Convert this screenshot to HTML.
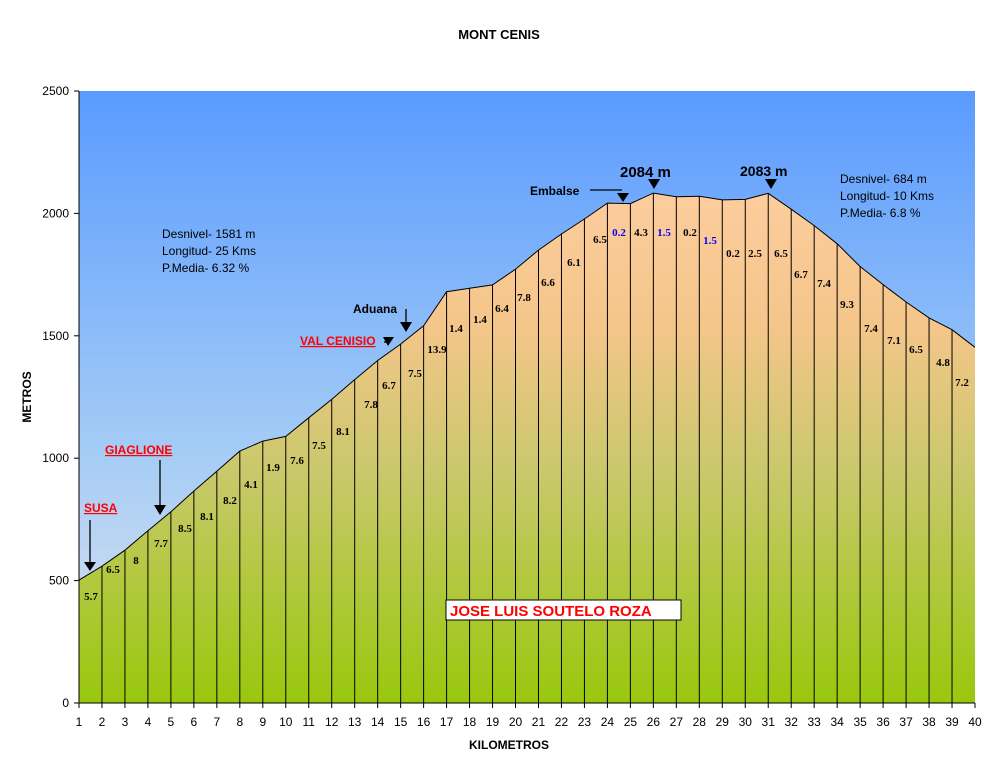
<!DOCTYPE html>
<html><head><meta charset="utf-8"><style>body{margin:0;background:#fff}svg{display:block}</style></head>
<body>
<svg id="s" width="999" height="767" xmlns="http://www.w3.org/2000/svg" font-family="Liberation Sans, sans-serif">
<defs>
<linearGradient id="sky" x1="0" y1="91" x2="0" y2="703" gradientUnits="userSpaceOnUse">
<stop offset="0" stop-color="#5a9bff"/><stop offset="0.6" stop-color="#a6cdf5"/><stop offset="1" stop-color="#e4e2ef"/></linearGradient>
<linearGradient id="fill" x1="0" y1="200" x2="0" y2="703" gradientUnits="userSpaceOnUse">
<stop offset="0" stop-color="#fccc9c"/><stop offset="0.25" stop-color="#f4c68a"/><stop offset="0.55" stop-color="#c8c86a"/><stop offset="1" stop-color="#98c80c"/></linearGradient>
</defs>
<text x="499" y="39" font-size="13" font-weight="bold" text-anchor="middle">MONT CENIS</text>
<rect x="79" y="91" width="896" height="612" fill="url(#sky)"/>
<g id="prof"></g>
<g id="ax" font-size="12"></g>
<text x="509" y="749" font-size="12" font-weight="bold" text-anchor="middle">KILOMETROS</text>
<text transform="translate(31,397) rotate(-90)" font-size="12" font-weight="bold" text-anchor="middle">METROS</text>
<g font-size="12">
<text x="162" y="238">Desnivel- 1581 m</text><text x="162" y="255">Longitud- 25 Kms</text><text x="162" y="272">P.Media- 6.32 %</text>
<text x="840" y="183">Desnivel- 684 m</text><text x="840" y="200">Longitud- 10 Kms</text><text x="840" y="217">P.Media- 6.8 %</text>
</g>
<g font-size="12" font-weight="bold" fill="#f00" text-decoration="underline">
<text x="84" y="512">SUSA</text><text x="105" y="454">GIAGLIONE</text><text x="300" y="345">VAL CENISIO</text>
</g>
<g font-size="12" font-weight="bold">
<text x="353" y="313">Aduana</text><text x="530" y="195">Embalse</text>
<text x="620" y="177" font-size="15">2084 m</text><text x="740" y="176" font-size="14">2083 m</text>
</g>
<g stroke="#000" stroke-width="1.3">
<line x1="90" y1="520" x2="90" y2="562"/><line x1="160" y1="460" x2="160" y2="507"/>
<line x1="406" y1="309" x2="406" y2="324"/>
<line x1="590" y1="190" x2="622" y2="190"/><line x1="384" y1="342" x2="388" y2="342"/>
</g>
<g fill="#000">
<polygon points="84,562 96,562 90,571"/><polygon points="154,505 166,505 160,515"/>
<polygon points="400,322 412,322 406,332"/><polygon points="383,337 394,337 388,346"/>
<polygon points="617,193 629,193 623,202"/><polygon points="648,179 660,179 654,189"/><polygon points="765,179 777,179 771,189"/>
</g>
<rect x="446" y="600" width="235" height="20" fill="#fff" stroke="#000"/>
<text x="450" y="616" font-size="15" font-weight="bold" fill="#f00">JOSE LUIS SOUTELO ROZA</text>
</svg>
<script>
const e=[502];const g=[5.7,6.5,8,7.7,8.5,8.1,8.2,4.1,1.9,7.6,7.5,8.1,7.8,6.7,7.5,13.9,1.4,1.4,6.4,7.8,6.6,6.1,6.5,-0.2,4.3,-1.5,0.2,-1.5,0.2,2.5,-6.5,-6.7,-7.4,-9.3,-7.4,-7.1,-6.5,-4.8,-7.2];
g.forEach(v=>e.push(e[e.length-1]+v*10));
const X=k=>79+(k-1)*896/39, Y=v=>703-v*612/2500;
let s='<path d="M79,703 '+e.map((v,i)=>'L'+X(i+1).toFixed(1)+','+Y(v).toFixed(1)).join(' ')+' L975,703Z" fill="url(#fill)"/>';
s+='<polyline points="'+e.map((v,i)=>X(i+1).toFixed(1)+','+Y(v).toFixed(1)).join(' ')+'" fill="none" stroke="#000" stroke-width="1"/>';
for(let i=1;i<39;i++)s+=`<line x1="${X(i+1)}" y1="${Y(e[i])}" x2="${X(i+1)}" y2="703" stroke="#000" stroke-width="1"/>`;
const ly=[596,569,560,543,528,516,500,484,467,460,445,431,404,385,373,349,328,319,308,297,282,262,239,232,232,232,232,240,253,253,253,274,283,304,328,340,349,362,382];
const lx=[91,113,136,161,185,207,230,251,273,297,319,343,371,389,415,437,456,480,502,524,548,574,600,619,641,664,690,710,733,755,781,801,824,847,871,894,916,943,962];
g.forEach((v,i)=>{const b=(i==23||i==25||i==27);s+=`<text x="${lx[i]}" y="${ly[i]+4}" font-family="Liberation Serif,serif" font-size="11" font-weight="bold" text-anchor="middle" fill="${b?'#00f':'#000'}">${Math.abs(v)}</text>`;});
document.getElementById('prof').innerHTML=s;
let a='<line x1="79" y1="91" x2="79" y2="703" stroke="#000"/><line x1="79" y1="703" x2="975" y2="703" stroke="#000"/>';
for(let m=0;m<=2500;m+=500){a+=`<line x1="74" y1="${Y(m)}" x2="79" y2="${Y(m)}" stroke="#000"/><text x="69" y="${Y(m)+4}" text-anchor="end">${m}</text>`;}
for(let k=1;k<=40;k++){a+=`<line x1="${X(k)}" y1="703" x2="${X(k)}" y2="708" stroke="#000"/><text x="${X(k)}" y="726" text-anchor="middle">${k}</text>`;}
document.getElementById('ax').innerHTML=a;
</script>
</body></html>
